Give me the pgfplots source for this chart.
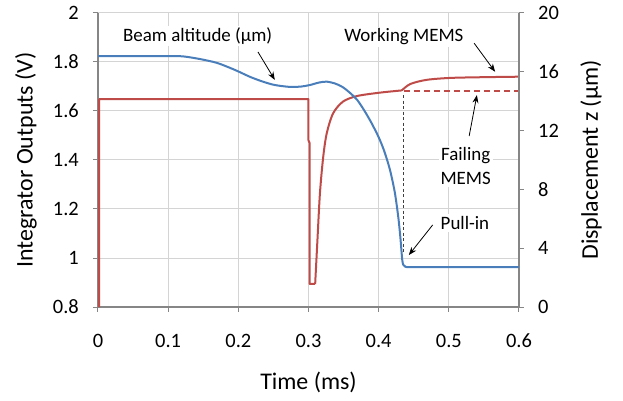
\documentclass[border=0pt]{standalone}
\usepackage{fontspec}
\setmainfont{Carlito}
\usepackage{pgfplots}
\pgfplotsset{compat=1.18}
\usetikzlibrary{arrows.meta}

\definecolor{beam}{HTML}{4A7EBB}
\definecolor{integ}{HTML}{BE4B48}
\definecolor{axisgray}{HTML}{868686}
\definecolor{gridgray}{HTML}{D4D4D4}

\pgfplotsset{
  common/.style={
    scale only axis, width=421bp, height=294bp,
    xmin=0, xmax=0.6,
    axis line style={-, axisgray, line width=1.8bp},
    tick style={axisgray, line width=1bp},
    major tick length=5bp,
    tick align=outside,
    /pgf/number format/assume math mode=true,
    tick label style={font=\fontsize{20.5}{24}\selectfont, inner sep=0pt, text=black},
    label style={font=\fontsize{24}{28}\selectfont, inner sep=0pt},
  },
}
\tikzset{
  note/.style={font=\fontsize{19}{22}\selectfont, fill=white, inner sep=2bp, align=center},
  pointer/.style={-{Stealth[length=8bp,width=6bp]}, line width=0.8bp, black},
}

\begin{document}
\begin{tikzpicture}
\useasboundingbox (-98bp,-94bp) rectangle (525bp,307bp);

% integrator outputs (V)
\begin{axis}[common,
  axis x line*=bottom, axis y line*=left,
  ymin=0.8, ymax=2,
  xtick={0,0.1,0.2,0.3,0.4,0.5,0.6},
  xticklabels={0,0.1,0.2,0.3,0.4,0.5,0.6},
  ytick={0.8,1,1.2,1.4,1.6,1.8,2},
  yticklabels={0.8,1,1.2,1.4,1.6,1.8,2},
  xticklabel style={anchor=north, yshift=-22bp},
  yticklabel style={anchor=east, xshift=-14bp},
  grid=major, grid style={gridgray, line width=1bp},
  xlabel={Time (ms)},
  xlabel style={at={(axis description cs:0.5,-0.255)}, anchor=center},
  ylabel={Integrator Outputs (V)},
  ylabel style={at={(axis description cs:-0.171,0.5)}, anchor=center, rotate=0},
  clip=false,
]
% step, drop at 0.3 ms
\addplot[integ, line width=2bp, line join=round] coordinates {
  (0.0015,0.8) (0.0015,1.648) (0.300,1.648) (0.300,1.48)
  (0.3015,1.47) (0.3015,0.894) (0.3095,0.894)
};
% recovery towards the working level
\addplot[integ, line width=2bp, smooth, tension=0.5] coordinates {
  (0.3095,0.894) (0.3125,1.06) (0.3163,1.264) (0.321,1.413) (0.326,1.509)
  (0.335,1.59) (0.349,1.638) (0.369,1.661) (0.402,1.675) (0.433,1.684)
};
% working MEMS
\addplot[integ, line width=2bp, smooth, tension=0.5] coordinates {
  (0.433,1.684) (0.445,1.71) (0.468,1.727) (0.502,1.735) (0.549,1.738) (0.6,1.740)
};
% failing MEMS
\addplot[integ, line width=2bp, dash pattern=on 6bp off 4bp] coordinates {
  (0.436,1.682) (0.6,1.682)
};
% pull-in instant
\addplot[black!75, line width=1.1bp, dash pattern=on 3bp off 2.5bp] coordinates {
  (0.436,1.665) (0.436,1.02)
};

\node[note] at (axis cs:0.142,1.906) {Beam altitude (µm)};
\node[note] at (axis cs:0.436,1.902) {Working MEMS};
\node[note, font=\fontsize{19}{24}\selectfont] at (axis cs:0.524,1.375) {Failing\\MEMS};
\node[note] at (axis cs:0.523,1.143) {Pull-in};
\draw[pointer] (axis cs:0.228,1.841) -- (axis cs:0.252,1.727);
\draw[pointer] (axis cs:0.536,1.877) -- (axis cs:0.566,1.76);
\draw[pointer] (axis cs:0.529,1.498) -- (axis cs:0.540,1.665);
\draw[pointer] (axis cs:0.477,1.135) -- (axis cs:0.443,1.012);
\end{axis}

% beam displacement (um)
\begin{axis}[common,
  axis x line=none, axis y line*=right,
  ymin=0, ymax=20,
  ytick={0,4,8,12,16,20},
  yticklabels={0,4,8,12,16,20},
  yticklabel style={anchor=west, xshift=14bp},
  ylabel={Displacement z (µm)},
  ylabel style={at={(axis description cs:1.171,0.5)}, anchor=center, rotate=0},
]
\addplot[beam, line width=2bp, smooth, tension=0.45] coordinates {
  (0,17.07) (0.10,17.07) (0.121,17.05) (0.145,16.87) (0.17,16.60)
  (0.195,16.13) (0.217,15.65) (0.235,15.33) (0.252,15.10) (0.274,14.97)
  (0.29,15.00) (0.302,15.10) (0.315,15.27) (0.326,15.33) (0.338,15.20)
  (0.349,14.95) (0.360,14.53) (0.370,14.05) (0.380,13.33) (0.390,12.50)
  (0.400,11.55) (0.408,10.60) (0.416,9.35) (0.423,7.80) (0.428,6.10)
  (0.431,4.70) (0.4335,3.25) (0.435,2.88) (0.438,2.74) (0.443,2.71)
  (0.46,2.71) (0.6,2.71)
};
\end{axis}
\end{tikzpicture}
\end{document}
